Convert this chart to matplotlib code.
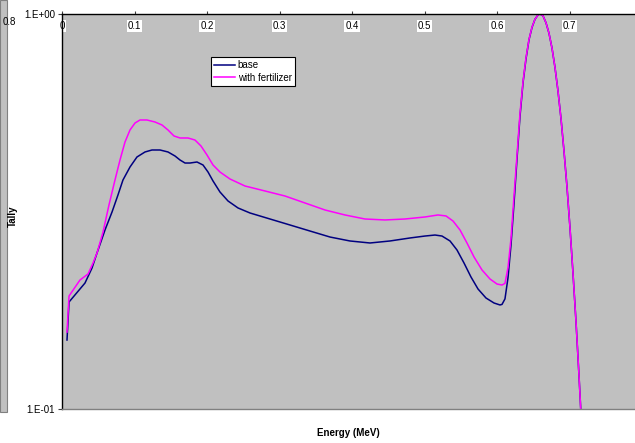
import matplotlib
matplotlib.use("Agg")
import matplotlib.pyplot as plt
from matplotlib.patches import Rectangle
from matplotlib.ticker import FixedLocator, NullLocator

plt.rcParams['font.family'] = ['Liberation Sans', 'DejaVu Sans']

# ---- data ----
energy_base = [0.0069, 0.0097, 0.0317, 0.0414, 0.0483, 0.0593, 0.0690, 0.0772, 0.0841, 0.0938,
               0.1034, 0.1145, 0.1241, 0.1352, 0.1462, 0.1559, 0.1628, 0.1697, 0.1766, 0.1862,
               0.1945, 0.2014, 0.2083, 0.2179, 0.2290, 0.2428, 0.2593, 0.2869, 0.3145, 0.3421,
               0.3697, 0.3972, 0.4248, 0.4524, 0.4800, 0.5007, 0.5145, 0.5241, 0.5352, 0.5448,
               0.5545, 0.5641, 0.5738, 0.5848, 0.5959, 0.6041, 0.6069, 0.6110, 0.6152, 0.6193,
               0.6234, 0.6276, 0.6317, 0.6359, 0.6400, 0.6441, 0.6483, 0.6524, 0.6566, 0.6593,
               0.6634, 0.6676, 0.6717, 0.6759, 0.6800, 0.6841, 0.6883, 0.6924, 0.6966, 0.7007,
               0.7048, 0.7090, 0.7131, 0.7172, 0.7214]
tally_base = [0.1495, 0.1866, 0.2084, 0.2275, 0.2483, 0.2839, 0.3153, 0.3482, 0.3800, 0.4099,
              0.4345, 0.4474, 0.4526, 0.4526, 0.4474, 0.4370, 0.4269, 0.4195, 0.4195, 0.4220,
              0.4147, 0.3981, 0.3778, 0.3543, 0.3362, 0.3228, 0.3135, 0.3027, 0.2923, 0.2822,
              0.2725, 0.2663, 0.2632, 0.2663, 0.2710, 0.2741, 0.2757, 0.2741, 0.2663, 0.2527,
              0.2342, 0.2159, 0.2013, 0.1910, 0.1855, 0.1834, 0.1840, 0.1900, 0.2150, 0.2600,
              0.3300, 0.4300, 0.5500, 0.6700, 0.7700, 0.8600, 0.9250, 0.9700, 0.9950, 1.0000,
              0.9900, 0.9500, 0.8940, 0.8190, 0.7320, 0.6390, 0.5430, 0.4500, 0.3640, 0.2870,
              0.2210, 0.1660, 0.1215, 0.0870, 0.0620]

energy_fert = [0.0069, 0.0097, 0.0248, 0.0359, 0.0428, 0.0483, 0.0566, 0.0648, 0.0731, 0.0800,
               0.0869, 0.0938, 0.1007, 0.1076, 0.1172, 0.1283, 0.1379, 0.1462, 0.1545, 0.1628,
               0.1738, 0.1834, 0.1917, 0.2000, 0.2083, 0.2179, 0.2317, 0.2524, 0.2800, 0.3076,
               0.3352, 0.3628, 0.3903, 0.4179, 0.4455, 0.4731, 0.5007, 0.5186, 0.5297, 0.5393,
               0.5490, 0.5586, 0.5683, 0.5793, 0.5903, 0.6000, 0.6069, 0.6110, 0.6152, 0.6193,
               0.6234, 0.6276, 0.6317, 0.6359, 0.6400, 0.6441, 0.6483, 0.6524, 0.6566, 0.6593,
               0.6634, 0.6676, 0.6717, 0.6759, 0.6800, 0.6841, 0.6883, 0.6924, 0.6966, 0.7007,
               0.7048, 0.7090, 0.7131, 0.7172, 0.7214]
tally_fert = [0.1566, 0.1932, 0.2121, 0.2197, 0.2342, 0.2483, 0.2806, 0.3285, 0.3800, 0.4269,
              0.4742, 0.5086, 0.5297, 0.5391, 0.5391, 0.5328, 0.5236, 0.5086, 0.4911, 0.4854,
              0.4854, 0.4797, 0.4633, 0.4396, 0.4147, 0.3981, 0.3822, 0.3669, 0.3564, 0.3461,
              0.3323, 0.3190, 0.3099, 0.3027, 0.3010, 0.3027, 0.3063, 0.3099, 0.3081, 0.2992,
              0.2839, 0.2632, 0.2426, 0.2249, 0.2134, 0.2072, 0.2060, 0.2080, 0.2280, 0.2700,
              0.3450, 0.4400, 0.5600, 0.6750, 0.7750, 0.8620, 0.9270, 0.9700, 0.9950, 1.0000,
              0.9900, 0.9500, 0.8940, 0.8190, 0.7320, 0.6390, 0.5430, 0.4500, 0.3640, 0.2870,
              0.2210, 0.1660, 0.1215, 0.0870, 0.0620]

series_names = ["base", "with fertilizer"]
x_ticks = [0, 0.1, 0.2, 0.3, 0.4, 0.5, 0.6, 0.7]
x_tick_labels = ["0", "0.1", "0.2", "0.3", "0.4", "0.5", "0.6", "0.7"]
y_ticks = [0.1, 1.0]
y_tick_labels = ["1.E-01", "1.E+00"]

W, H = 635, 443
fig = plt.figure(figsize=(W / 100, H / 100), dpi=100)

# clipped neighbouring chart fragment at the far left
fig.patches.append(Rectangle((0, (H - 412) / H), 7 / W, 412 / H, transform=fig.transFigure,
                             facecolor="#C0C0C0", edgecolor="#808080", linewidth=0.8, zorder=0))
fig.text(9 / W, 1 - 22 / H, "0.8", fontsize=7, ha="center", va="center")

ax = fig.add_axes([62 / W, (H - 409) / H, (W - 62) / W, (409 - 14) / H])
ax.set_facecolor("#C0C0C0")

ax.plot(energy_base, tally_base, color="#000080", linewidth=1.1, label=series_names[0])
ax.plot(energy_fert, tally_fert, color="#FF00FF", linewidth=1.1, label=series_names[1])

ax.set_yscale("log")
ax.set_xlim(0, (W - 62) / 725)
ax.set_ylim(0.1, 1.0)

ax.yaxis.set_major_locator(FixedLocator(y_ticks))
ax.yaxis.set_minor_locator(NullLocator())
ax.set_yticklabels(y_tick_labels)
ax.tick_params(axis="y", direction="out", length=3, width=0.8, labelsize=7, pad=2, color="#404040")

ax.xaxis.tick_top()
ax.set_xticks(x_ticks)
ax.set_xticklabels(x_tick_labels)
ax.tick_params(axis="x", direction="out", length=2.2, width=0.8, labelsize=7, pad=-14.5, color="#404040")
for lab in ax.get_xticklabels():
    lab.set_bbox(dict(facecolor="white", edgecolor="none", pad=0.6))

for side in ["top", "left"]:
    ax.spines[side].set_color("black")
    ax.spines[side].set_linewidth(1.0)
ax.spines["bottom"].set_color("#808080")
ax.spines["bottom"].set_linewidth(1.0)
ax.spines["right"].set_visible(False)

leg = ax.legend(loc="upper left", bbox_to_anchor=(211 / W, 1 - 57 / H),
                bbox_transform=fig.transFigure, fontsize=7, frameon=True, fancybox=False,
                edgecolor="black", facecolor="white", framealpha=1, borderaxespad=0,
                handlelength=2.1, handletextpad=0.3, borderpad=0.35, labelspacing=0.25)
leg.get_frame().set_linewidth(0.8)

fig.text(13 / W, 1 - 216 / H, "Tally", fontsize=7, fontweight="bold", rotation=90,
         ha="center", va="center")
fig.text(348 / W, 1 - 433 / H, "Energy (MeV)", fontsize=7, fontweight="bold",
         ha="center", va="center")

fig.savefig("out.png", dpi=100)
